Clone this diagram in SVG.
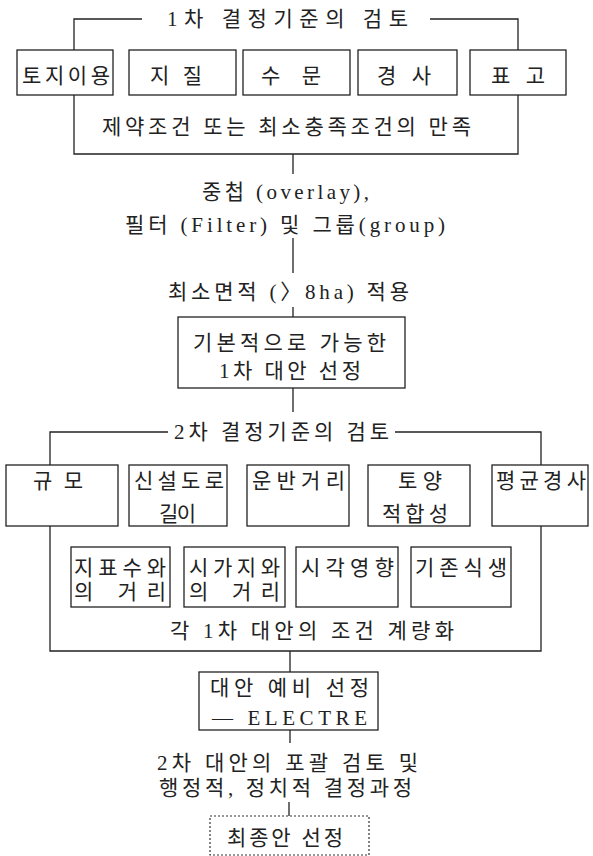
<svg xmlns="http://www.w3.org/2000/svg" width="593" height="856" viewBox="0 0 593 856">
<style>
.b{fill:#fff;stroke:#222;stroke-width:1.3}
.d{fill:#fff;stroke:#333;stroke-width:1.2;stroke-dasharray:2 2}
.c{fill:none;stroke:#222;stroke-width:1.3}
text{font-family:"Liberation Serif","Noto Sans CJK KR",serif;font-size:21px;fill:#222}
</style>
<rect width="593" height="856" fill="#fff"/>
<g id="connectors">
<path class="c" d="M142,19 H74 V50 M430,19 H518 V50"/>
<path class="c" d="M74,95 V154 H518 V95"/>
<path class="c" d="M293,154 V174 M293,238 V273 M293,307 V317 M293,388 V412"/>
<path class="c" d="M168,432 H50 V465 M395,432 H541 V465"/>
<path class="c" d="M50,526 V651 H541 V526"/>
<path class="c" d="M290,651 V672 M290,730 V743 M289,802 V816"/>
</g>
<g id="title1"><text x="167" y="26" textLength="241" lengthAdjust="spacing">1차 결정기준의 검토</text></g>
<g id="n_landuse"><rect class="b" x="17" y="50" width="96" height="45"/><text x="22" y="83" textLength="88" lengthAdjust="spacing">토지이용</text></g>
<g id="n_geology"><rect class="b" x="129" y="50" width="107" height="45"/><text x="150" y="83" textLength="52" lengthAdjust="spacing">지 질</text></g>
<g id="n_hydro"><rect class="b" x="243" y="50" width="107" height="45"/><text x="261" y="83" textLength="60" lengthAdjust="spacing">수 문</text></g>
<g id="n_slope"><rect class="b" x="358" y="50" width="99" height="45"/><text x="377" y="83" textLength="54" lengthAdjust="spacing">경 사</text></g>
<g id="n_elev"><rect class="b" x="470" y="50" width="96" height="45"/><text x="491" y="83" textLength="54" lengthAdjust="spacing">표 고</text></g>
<g id="lbl_constraint"><text x="102" y="134" textLength="369" lengthAdjust="spacing">제약조건 또는 최소충족조건의 만족</text></g>
<g id="lbl_overlay">
<text x="202" y="199" textLength="167" lengthAdjust="spacing">중첩 (overlay),</text>
<text x="125" y="232" textLength="320" lengthAdjust="spacing">필터 (Filter) 및 그룹(group)</text>
</g>
<g id="lbl_area"><text x="168" y="299" textLength="241" lengthAdjust="spacing">최소면적 (〉8ha) 적용</text></g>
<g id="n_first"><rect class="b" x="178" y="317" width="227" height="71"/>
<text x="193" y="350" textLength="193" lengthAdjust="spacing">기본적으로 가능한</text>
<text x="219" y="378" textLength="142" lengthAdjust="spacing">1차 대안 선정</text></g>
<g id="title2"><text x="174" y="439" textLength="215" lengthAdjust="spacing">2차 결정기준의 검토</text></g>
<g id="n_scale"><rect class="b" x="6" y="465" width="112" height="61"/><text x="33" y="488" textLength="50" lengthAdjust="spacing">규 모</text></g>
<g id="n_road"><rect class="b" x="129" y="465" width="98" height="61"/><text x="134" y="488" textLength="90" lengthAdjust="spacing">신설도로</text><text x="159" y="521" textLength="37" lengthAdjust="spacing">길이</text></g>
<g id="n_haul"><rect class="b" x="247" y="465" width="102" height="61"/><text x="252" y="488" textLength="93" lengthAdjust="spacing">운반거리</text></g>
<g id="n_soil"><rect class="b" x="368" y="465" width="102" height="61"/><text x="398" y="488" textLength="44" lengthAdjust="spacing">토양</text><text x="382" y="521" textLength="66" lengthAdjust="spacing">적합성</text></g>
<g id="n_avgslope"><rect class="b" x="492" y="465" width="96" height="61"/><text x="496" y="488" textLength="90" lengthAdjust="spacing">평균경사</text></g>
<g id="n_water"><rect class="b" x="71" y="547" width="99" height="60"/><text x="74" y="575" textLength="92" lengthAdjust="spacing">지표수와</text><text x="74" y="599" textLength="92" lengthAdjust="spacing">의  거리</text></g>
<g id="n_urban"><rect class="b" x="184" y="547" width="101" height="60"/><text x="189" y="575" textLength="91" lengthAdjust="spacing">시가지와</text><text x="189" y="599" textLength="91" lengthAdjust="spacing">의  거리</text></g>
<g id="n_visual"><rect class="b" x="296" y="547" width="102" height="60"/><text x="301" y="575" textLength="93" lengthAdjust="spacing">시각영향</text></g>
<g id="n_veg"><rect class="b" x="411" y="547" width="100" height="60"/><text x="415" y="575" textLength="92" lengthAdjust="spacing">기존식생</text></g>
<g id="lbl_quant"><text x="170" y="638" textLength="284" lengthAdjust="spacing">각 1차 대안의 조건 계량화</text></g>
<g id="n_electre"><rect class="b" x="199" y="672" width="179" height="58"/>
<text x="210" y="695" textLength="159" lengthAdjust="spacing">대안 예비 선정</text>
<text x="212" y="725" textLength="155" lengthAdjust="spacing">— ELECTRE</text></g>
<g id="lbl_review">
<text x="157" y="770" textLength="261" lengthAdjust="spacing">2차 대안의 포괄 검토 및</text>
<text x="159" y="795" textLength="253" lengthAdjust="spacing">행정적, 정치적 결정과정</text>
</g>
<g id="n_final"><rect class="d" x="210" y="816" width="159" height="39"/><text x="227" y="845" textLength="116" lengthAdjust="spacing">최종안 선정</text></g>
</svg>
